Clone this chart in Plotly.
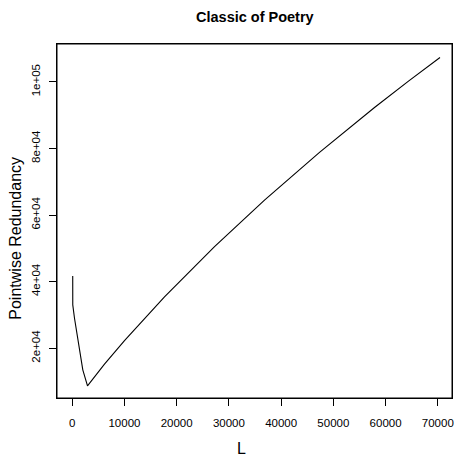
import plotly.graph_objects as go

# Data
L_vals = [100, 110, 440, 1070, 2030, 2930, 6180, 10010, 13840, 17670, 27250,
          32660, 36820, 47350, 57880, 64450, 70420]
redundancy = [41700, 33000, 29000, 22500, 13500, 8700, 15200, 22300, 29000,
              35400, 50500, 58500, 64500, 78800, 92300, 100300, 107300]

x_ticks = [0, 10000, 20000, 30000, 40000, 50000, 60000, 70000]
x_tick_text = ["0", "10000", "20000", "30000", "40000", "50000", "60000", "70000"]
y_ticks = [20000, 40000, 60000, 80000, 100000]
y_tick_text = ["2e+04", "4e+04", "6e+04", "8e+04", "1e+05"]

title_text = "Classic of Poetry"
x_label = "L"
y_label = "Pointwise Redundancy"

FONT = "Liberation Sans, Arial, Helvetica, sans-serif"

fig = go.Figure()
fig.add_trace(go.Scatter(x=L_vals, y=redundancy, mode="lines",
                         line=dict(color="black", width=1.1),
                         hoverinfo="skip", showlegend=False))

axis_common = dict(showgrid=False, zeroline=False, showline=True, mirror=True,
                   linecolor="black", linewidth=1, ticks="outside", ticklen=7,
                   tickwidth=1, tickcolor="black", ticklabeloverflow="allow",
                   tickfont=dict(family=FONT, size=11.5, color="black"))

fig.update_xaxes(range=[-2910, 72717], tickvals=x_ticks, ticktext=x_tick_text,
                 ticklabelstandoff=7, **axis_common)
fig.update_yaxes(range=[5050, 111370], tickvals=y_ticks, ticktext=y_tick_text,
                 tickangle=-90, ticklabelstandoff=4, **axis_common)

fig.update_layout(
    width=454, height=457,
    margin=dict(l=57, r=2, t=44, b=59, autoexpand=False),
    plot_bgcolor="white", paper_bgcolor="white",
    font=dict(family=FONT, color="black"),
    shapes=[dict(type="rect", xref="paper", yref="paper", x0=0, x1=1, y0=0, y1=1,
                 line=dict(color="black", width=1), fillcolor="rgba(0,0,0,0)")],
    annotations=[
        dict(text="<b>" + title_text + "</b>", xref="paper", yref="paper",
             x=0.5, y=1.0, yshift=27, showarrow=False,
             xanchor="center", yanchor="middle",
             font=dict(family=FONT, size=14.5, color="black")),
        dict(text=x_label, xref="paper", yref="paper",
             x=(241.7 - 57.5) / 395.0, y=0, yshift=-50, showarrow=False,
             xanchor="center", yanchor="middle",
             font=dict(family=FONT, size=16, color="black")),
        dict(text=y_label, xref="paper", yref="paper",
             x=0, xshift=-41, y=0.45, showarrow=False, textangle=-90,
             xanchor="center", yanchor="middle",
             font=dict(family=FONT, size=16, color="black")),
    ],
)

fig.write_html("out.html", config={"displayModeBar": False},
               post_script="document.body.style.margin='0';document.body.style.overflow='hidden';")
